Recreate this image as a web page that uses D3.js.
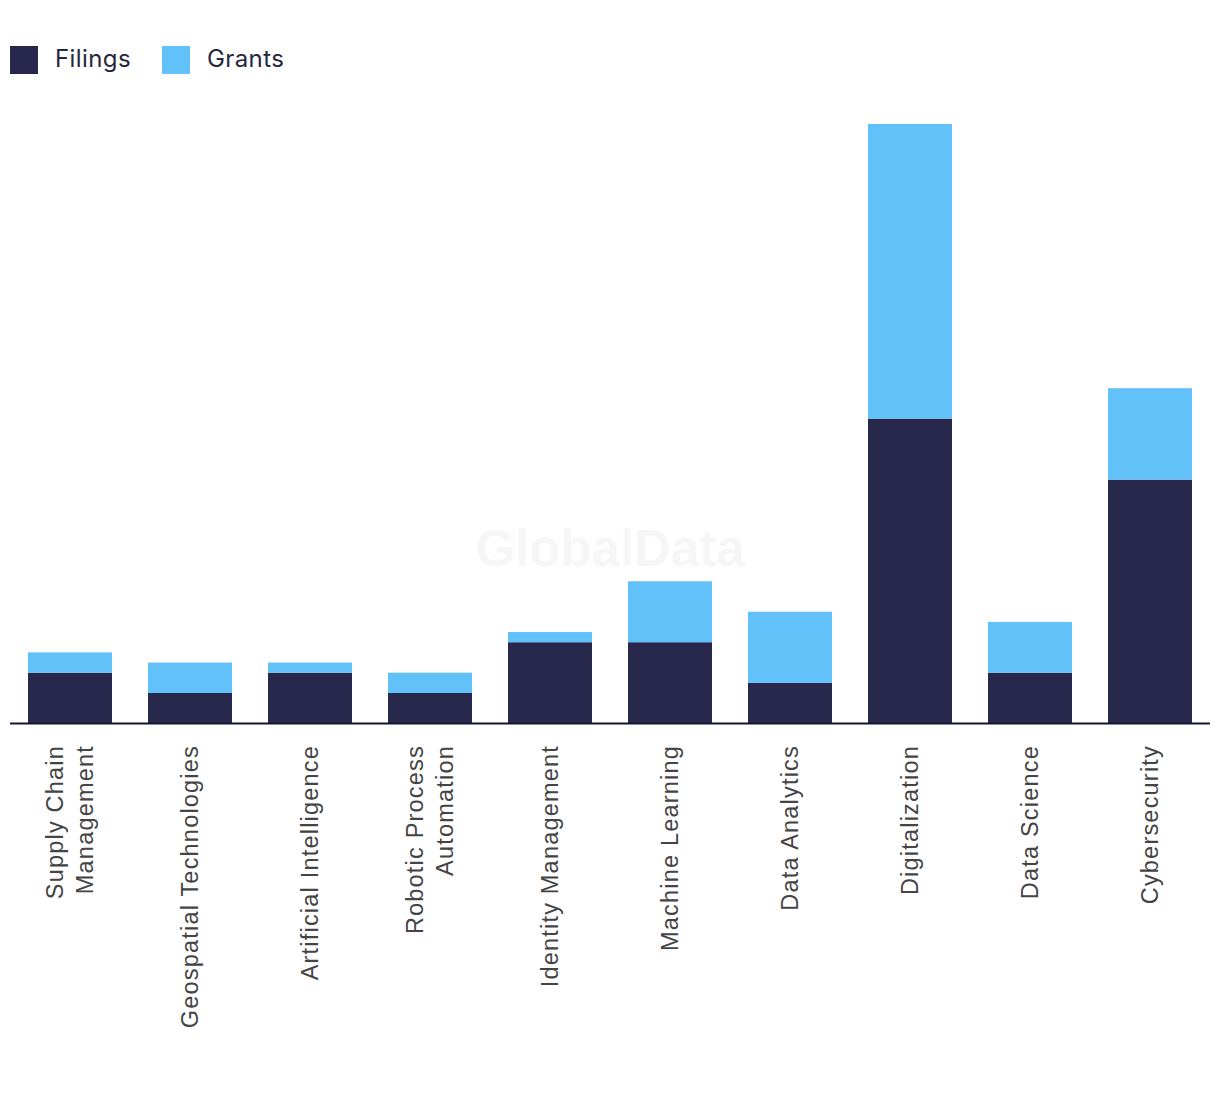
<!DOCTYPE html>
<html>
<head>
<meta charset="utf-8">
<script src="https://cdn.jsdelivr.net/npm/d3@7"></script>
<style>
  html, body { margin: 0; padding: 0; background: #fff; }
  svg { display: block; }
</style>
</head>
<body>
<svg id="chart" width="1220" height="1094"></svg>
<script>
const categories = ["Supply Chain Management", "Geospatial Technologies", "Artificial Intelligence", "Robotic Process Automation", "Identity Management", "Machine Learning", "Data Analytics", "Digitalization", "Data Science", "Cybersecurity"];
const labelLines = [["Supply Chain", "Management"], ["Geospatial Technologies"], ["Artificial Intelligence"], ["Robotic Process", "Automation"], ["Identity Management"], ["Machine Learning"], ["Data Analytics"], ["Digitalization"], ["Data Science"], ["Cybersecurity"]];
const filings = [5, 3, 5, 3, 8, 8, 4, 30, 5, 24];
const grants = [2, 3, 1, 2, 1, 6, 7, 29, 5, 9];
const seriesNames = ["Filings", "Grants"];
const colors = ["#27284b", "#62c1f9"];

const svg = d3.select("#chart");
const baseline = 723.5;

const rows = categories.map((c, i) => ({ cat: c, Filings: filings[i], Grants: grants[i] }));
const stack = d3.stack().keys(seriesNames)(rows);

const x = d3.scaleBand().domain(categories).range([10, 1210]).paddingInner(0.3).paddingOuter(0.15);
const y = d3.scaleLinear().domain([0, 59]).range([baseline, 124]);

// watermark
svg.append("text")
  .attr("x", 610).attr("y", 566)
  .attr("text-anchor", "middle")
  .attr("font-family", "Liberation Sans, Arial, sans-serif")
  .attr("font-weight", "bold")
  .attr("font-size", 51)
  .attr("fill", "#f6f6f6")
  .text("GlobalData");

// bars
svg.append("g").selectAll("g").data(stack).join("g")
  .attr("fill", (d, i) => colors[i])
  .selectAll("rect").data(d => d).join("rect")
  .attr("x", d => x(d.data.cat))
  .attr("width", x.bandwidth())
  .attr("y", d => y(d[1]))
  .attr("height", d => y(d[0]) - y(d[1]));

// axis
const axis = svg.append("g").attr("transform", `translate(0,${baseline})`)
  .call(d3.axisBottom(x).tickSize(0).tickFormat(""));
axis.select(".domain").attr("stroke", "#161630").attr("stroke-width", 2).attr("d", "M10,0H1210");

// labels
const lbl = svg.append("g");
categories.forEach((c, i) => {
  const lines = labelLines[i];
  const cx = x(c) + x.bandwidth() / 2;
  const lh = 30;
  lines.forEach((ln, j) => {
    const off = (j - (lines.length - 1) / 2) * lh;
    lbl.append("text")
      .attr("transform", `translate(${cx + off + 7.5},745) rotate(-90)`)
      .attr("text-anchor", "end")
      .attr("font-family", "Liberation Sans, Arial, sans-serif")
      .attr("font-size", 23.5)
      .attr("letter-spacing", 1.2)
      .attr("fill", "#444444")
      .text(ln);
  });
});

// legend
const leg = svg.append("g");
const legX = [10, 162];
seriesNames.forEach((s, i) => {
  leg.append("rect").attr("x", legX[i]).attr("y", 46).attr("width", 28).attr("height", 28).attr("fill", colors[i]);
  leg.append("text").attr("x", legX[i] + 45).attr("y", 67)
    .attr("font-family", "Inter, sans-serif")
    .attr("font-size", 24)
    .attr("letter-spacing", 0.4)
    .attr("fill", "#262640")
    .text(s);
});
</script>
</body>
</html>
